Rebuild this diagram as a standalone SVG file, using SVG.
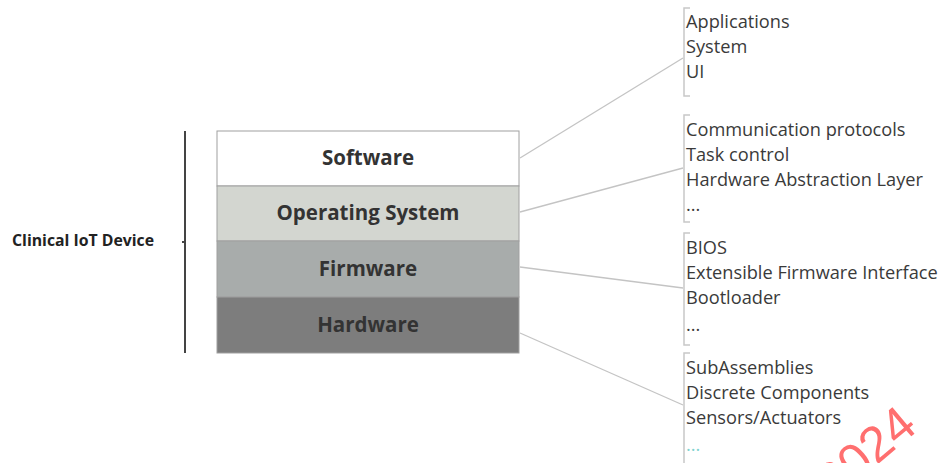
<svg xmlns="http://www.w3.org/2000/svg" width="943" height="463" viewBox="0 0 943 463">
<style>
.lbl{font-family:"Open Sans","Noto Sans","Liberation Sans",sans-serif;font-weight:bold;font-size:20.5px;fill:#333;text-anchor:middle}
.item{font-family:"Open Sans","Noto Sans","Liberation Sans",sans-serif;font-size:18.2px;fill:#3a3a3a}
.br{fill:none;stroke:#c8c8c8;stroke-width:1.5}
.conn{fill:none;stroke:#c4c4c4;stroke-width:1.3}
.box{stroke:#a0a0a0;stroke-width:1}
</style>
<rect width="943" height="463" fill="#ffffff"/>
<g id="device-label">
<text x="12" y="246" font-family="Open Sans,Liberation Sans,sans-serif" font-weight="bold" font-size="15.8" fill="#222">Clinical IoT Device</text>
<path d="M185 131 V353 M185 242 H182" fill="none" stroke="#444" stroke-width="2"/>
</g>
<g id="software">
<rect class="box" x="217" y="131" width="302" height="55" fill="#ffffff" stroke="#d0d0d0"/>
<text class="lbl" x="368" y="165">Software</text>
</g>
<g id="os">
<rect class="box" x="217" y="186" width="302" height="55" fill="#d3d6d0"/>
<text class="lbl" x="368" y="220">Operating System</text>
</g>
<g id="firmware">
<rect class="box" x="217" y="241" width="302" height="56" fill="#a8acab"/>
<text class="lbl" x="368" y="276">Firmware</text>
</g>
<g id="hardware">
<rect class="box" x="217" y="297" width="302" height="56" fill="#7d7d7d" stroke="#6a6a6a"/>
<text class="lbl" x="368" y="332">Hardware</text>
</g>
<g id="connectors">
<line class="conn" x1="520" y1="158" x2="683" y2="58"/>
<line class="conn" x1="520" y1="212" x2="683" y2="168"/>
<line class="conn" x1="520" y1="267" x2="683" y2="288"/>
<line class="conn" x1="520" y1="333" x2="683" y2="405"/>
</g>
<g id="group-software">
<path class="br" d="M690 8 H684 V96 H690"/>
<text class="item" x="686" y="28">Applications</text>
<text class="item" x="686" y="53">System</text>
<text class="item" x="686" y="78">UI</text>
</g>
<g id="group-os">
<path class="br" d="M690 115 H684 V222 H690"/>
<text class="item" x="686" y="136">Communication protocols</text>
<text class="item" x="686" y="161">Task control</text>
<text class="item" x="686" y="186">Hardware Abstraction Layer</text>
<text class="item" x="686" y="211">...</text>
</g>
<g id="group-firmware">
<path class="br" d="M690 233 H684 V345 H690"/>
<text class="item" x="686" y="254">BIOS</text>
<text class="item" x="686" y="279">Extensible Firmware Interface</text>
<text class="item" x="686" y="304">Bootloader</text>
<text class="item" x="686" y="331">...</text>
</g>
<g id="group-hardware">
<path class="br" d="M690 353 H684 V463"/>
<text class="item" x="686" y="374">SubAssemblies</text>
<text class="item" x="686" y="399">Discrete Components</text>
<text class="item" x="686" y="424">Sensors/Actuators</text>
<text class="item" x="686" y="451" style="fill:#7fd3d0">...</text>
</g>
<g id="watermark">
<text transform="translate(834 501) rotate(-40)" font-family="Liberation Sans,sans-serif" font-size="50" fill="#ff6f6f">2024</text>
</g>
</svg>
